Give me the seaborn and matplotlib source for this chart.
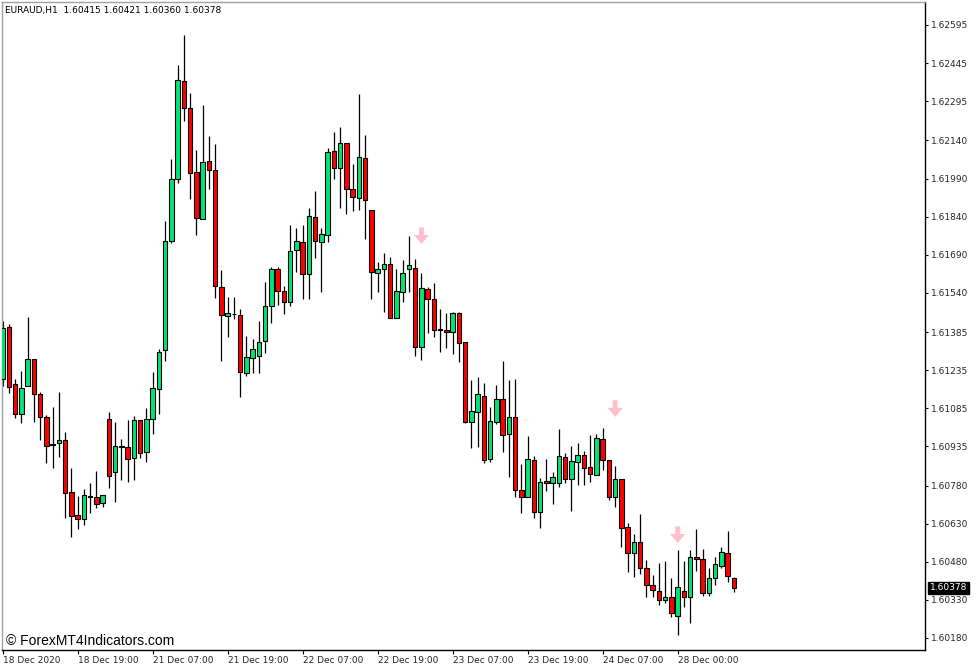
import matplotlib
matplotlib.use('Agg')
import matplotlib.pyplot as plt
import seaborn as sns
import pandas as pd
import numpy as np

# EURAUD H1 bars (oldest -> newest)
open_px = [1.61200, 1.61404, 1.61182, 1.61061, 1.61172, 1.61280, 1.61141, 1.61051, 1.60944, 1.60949,
           1.60960, 1.60754, 1.60665, 1.60649, 1.60741, 1.60735, 1.60711, 1.61043, 1.60834, 1.60935,
           1.60934, 1.60888, 1.61038, 1.60912, 1.61043, 1.61160, 1.61314, 1.61743, 1.61989, 1.62374,
           1.62269, 1.62015, 1.61832, 1.62059, 1.62023, 1.61562, 1.61449, 1.61458, 1.61454, 1.61225,
           1.61282, 1.61290, 1.61349, 1.61488, 1.61633, 1.61546, 1.61502, 1.61707, 1.61740, 1.61614,
           1.61837, 1.61742, 1.61766, 1.62097, 1.62033, 1.62129, 1.61949, 1.61912, 1.62070, 1.61866,
           1.61617, 1.61633, 1.61652, 1.61442, 1.61544, 1.61633, 1.61636, 1.61328, 1.61554, 1.61514,
           1.61396, 1.61393, 1.61384, 1.61459, 1.61345, 1.61032, 1.61072, 1.61133, 1.60886, 1.61032,
           1.61120, 1.60985, 1.61049, 1.60764, 1.60734, 1.60880, 1.60678, 1.60798, 1.60792, 1.60789,
           1.60892, 1.60805, 1.60875, 1.60900, 1.60852, 1.60821, 1.60964, 1.60880, 1.60737, 1.60805,
           1.60618, 1.60516, 1.60560, 1.60455, 1.60389, 1.60365, 1.60330, 1.60340, 1.60267, 1.60365,
           1.60340, 1.60498, 1.60490, 1.60356, 1.60415, 1.60465, 1.60516, 1.60415]
high_px = [1.61429, 1.61416, 1.61199, 1.61232, 1.61446, 1.61280, 1.61148, 1.61058, 1.61089, 1.61148,
           1.60990, 1.60849, 1.60739, 1.60766, 1.60791, 1.60838, 1.60742, 1.61069, 1.61030, 1.60964,
           1.61039, 1.61055, 1.61038, 1.61085, 1.61227, 1.61317, 1.61823, 1.62067, 1.62437, 1.62556,
           1.62328, 1.62103, 1.62280, 1.62159, 1.62126, 1.61630, 1.61525, 1.61525, 1.61475, 1.61370,
           1.61358, 1.61429, 1.61582, 1.61643, 1.61643, 1.61567, 1.61807, 1.61794, 1.61807, 1.61873,
           1.61941, 1.61794, 1.62112, 1.62175, 1.62194, 1.62129, 1.62046, 1.62323, 1.62162, 1.61866,
           1.61662, 1.61696, 1.61680, 1.61634, 1.61669, 1.61764, 1.61673, 1.61617, 1.61564, 1.61580,
           1.61475, 1.61459, 1.61465, 1.61463, 1.61345, 1.61196, 1.61209, 1.61183, 1.61091, 1.61177,
           1.61272, 1.61196, 1.61199, 1.60864, 1.60976, 1.60897, 1.60809, 1.60885, 1.60835, 1.61002,
           1.60910, 1.60936, 1.60949, 1.60918, 1.60980, 1.60982, 1.61008, 1.60880, 1.60858, 1.60805,
           1.60634, 1.60590, 1.60668, 1.60487, 1.60428, 1.60477, 1.60485, 1.60418, 1.60527, 1.60483,
           1.60527, 1.60608, 1.60529, 1.60455, 1.60500, 1.60537, 1.60602, 1.60421]
low_px = [1.61174, 1.61144, 1.61046, 1.61028, 1.61172, 1.61032, 1.60960, 1.60871, 1.60849, 1.60892,
          1.60652, 1.60577, 1.60609, 1.60625, 1.60671, 1.60691, 1.60695, 1.60772, 1.60715, 1.60802,
          1.60793, 1.60802, 1.60888, 1.60872, 1.60982, 1.61062, 1.61271, 1.61735, 1.61971, 1.62217,
          1.61908, 1.61768, 1.61832, 1.61949, 1.61518, 1.61272, 1.61365, 1.61437, 1.61131, 1.61212,
          1.61223, 1.61223, 1.61302, 1.61420, 1.61493, 1.61455, 1.61489, 1.61621, 1.61515, 1.61515,
          1.61676, 1.61542, 1.61740, 1.61990, 1.61873, 1.61850, 1.61863, 1.61866, 1.61752, 1.61515,
          1.61542, 1.61463, 1.61440, 1.61442, 1.61505, 1.61544, 1.61291, 1.61275, 1.61380, 1.61365,
          1.61308, 1.61321, 1.61299, 1.61268, 1.61026, 1.60927, 1.60934, 1.60871, 1.60872, 1.61022,
          1.60914, 1.60815, 1.60737, 1.60671, 1.60734, 1.60652, 1.60615, 1.60760, 1.60707, 1.60774,
          1.60789, 1.60680, 1.60783, 1.60783, 1.60793, 1.60821, 1.60842, 1.60724, 1.60697, 1.60537,
          1.60441, 1.60419, 1.60432, 1.60340, 1.60340, 1.60309, 1.60317, 1.60264, 1.60192, 1.60301,
          1.60238, 1.60445, 1.60345, 1.60347, 1.60389, 1.60457, 1.60399, 1.60360]
close_px = [1.61401, 1.61168, 1.61062, 1.61164, 1.61278, 1.61140, 1.61049, 1.60935, 1.60942, 1.60960,
            1.60752, 1.60662, 1.60650, 1.60742, 1.60734, 1.60709, 1.60742, 1.60819, 1.60935, 1.60934,
            1.60884, 1.61038, 1.60910, 1.61043, 1.61164, 1.61308, 1.61744, 1.61987, 1.62377, 1.62269,
            1.62011, 1.61836, 1.62054, 1.62023, 1.61568, 1.61451, 1.61459, 1.61456, 1.61228, 1.61286,
            1.61317, 1.61347, 1.61487, 1.61633, 1.61546, 1.61502, 1.61706, 1.61743, 1.61614, 1.61841,
            1.61743, 1.61770, 1.62093, 1.62033, 1.62129, 1.61949, 1.61916, 1.62074, 1.61906, 1.61621,
            1.61633, 1.61653, 1.61442, 1.61547, 1.61617, 1.61648, 1.61328, 1.61558, 1.61514, 1.61393,
            1.61395, 1.61384, 1.61459, 1.61343, 1.61032, 1.61073, 1.61140, 1.60881, 1.61034, 1.61120,
            1.60979, 1.61049, 1.60762, 1.60737, 1.60884, 1.60678, 1.60795, 1.60792, 1.60813, 1.60896,
            1.60805, 1.60876, 1.60900, 1.60851, 1.60826, 1.60967, 1.60880, 1.60737, 1.60806, 1.60615,
            1.60515, 1.60559, 1.60455, 1.60389, 1.60369, 1.60330, 1.60343, 1.60277, 1.60380, 1.60340,
            1.60500, 1.60490, 1.60356, 1.60415, 1.60470, 1.60518, 1.60425, 1.60378]

# time axis labels (every 12 bars)
date_ticks = [0, 12, 24, 36, 48, 60, 72, 84, 96, 108]
date_labels = ['18 Dec 2020', '18 Dec 19:00', '21 Dec 07:00', '21 Dec 19:00', '22 Dec 07:00',
               '22 Dec 19:00', '23 Dec 07:00', '23 Dec 19:00', '24 Dec 07:00', '28 Dec 00:00']

# price scale labels
price_ticks = [1.62595, 1.62445, 1.62295, 1.62140, 1.61990, 1.61840, 1.61690, 1.61540, 1.61385,
               1.61235, 1.61085, 1.60935, 1.60780, 1.60630, 1.60480, 1.60330, 1.60180]

# sell signal arrows (bar index, arrow tip price)
signal_idx = [67, 98, 108]
signal_tip = [1.61732, 1.61051, 1.60554]

df = pd.DataFrame({'open': open_px, 'high': high_px, 'low': low_px, 'close': close_px})
df['bar'] = np.arange(len(df))
df['bull'] = df['close'] > df['open']

sns.set_theme(style='white')
plt.rcParams['font.family'] = ['DejaVu Sans']

fig = plt.figure(figsize=(9.77, 6.72), dpi=100)
ax = fig.add_axes([2 / 977, 22 / 672, 923 / 977, 648 / 672])

# wicks
ax.vlines(df['bar'], df['low'], df['high'], color='black', linewidth=0.9, zorder=2)

# bodies
body_col = np.where(df['bull'], '#00e676', '#ff0000')
ax.bar(df['bar'], df['close'] - df['open'], bottom=df['open'], width=0.72,
       color=body_col, edgecolor='black', linewidth=0.8, zorder=3)

# signal arrows
for i, tip in zip(signal_idx, signal_tip):
    ax.annotate('', xy=(i, tip), xytext=(0, 12), textcoords='offset points',
                arrowprops=dict(facecolor='#ffc0cb', edgecolor='none', width=3.5,
                                headwidth=11, headlength=6.5, shrink=0), zorder=4)

ax.set_xlim(-0.112, 147.57)
ax.set_ylim(1.601327, 1.626856)

ax.set_xticks(date_ticks)
ax.set_xticklabels(date_labels, ha='left', fontsize=6.5)
ax.yaxis.tick_right()
ax.set_yticks(price_ticks)
ax.set_yticklabels([f'{p:.5f}' for p in price_ticks], fontsize=6.5)
ax.tick_params(axis='x', bottom=True, length=3, width=0.8, pad=1.5, color='black')
ax.tick_params(axis='y', right=True, left=False, length=2.5, width=0.8, pad=2, color='black')
ax.grid(False)

for side in ['left', 'top']:
    ax.spines[side].set_color('#a0a0a0')
    ax.spines[side].set_linewidth(1)
for side in ['right', 'bottom']:
    ax.spines[side].set_color('black')
    ax.spines[side].set_linewidth(1)

# current price box on the price scale
last = df.iloc[-1]
ax.text(1.0 + 5 / 923, last['close'], f"{last['close']:.5f}", transform=ax.get_yaxis_transform(),
        ha='left', va='center', fontsize=6.5, color='white',
        bbox=dict(facecolor='black', edgecolor='black', pad=1.2))

fig.text(5 / 977, 1 - 10 / 672,
         f"EURAUD,H1  {last['open']:.5f} {last['high']:.5f} {last['low']:.5f} {last['close']:.5f}",
         ha='left', va='center', fontsize=6.5, color='black')
fig.text(6 / 977, 1 - 641 / 672, '© ForexMT4Indicators.com', ha='left', va='center',
         fontsize=10, color='black', family=['Liberation Sans', 'DejaVu Sans'])

fig.savefig('out.png', dpi=100, facecolor='white')
